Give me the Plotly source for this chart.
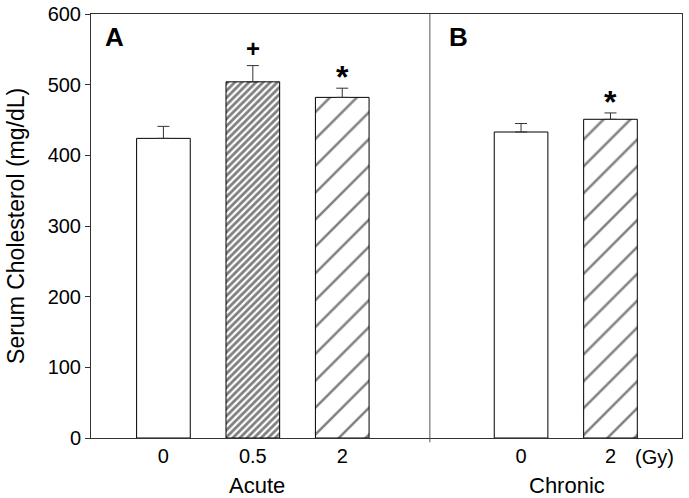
import plotly.graph_objects as go

# data
acute_doses = ["0", "0.5", "2"]
acute_mean = [424, 504, 482]
acute_err = [17, 23, 13]

chronic_doses = ["0", "2"]
chronic_mean = [433, 451]
chronic_err = [12, 9]

# hatch per dose: (shape, tile size, solidity)
hatch = {"0": ("", 8, 0.1), "0.5": ("/", 5, 0.55), "2": ("/", 19, 0.13)}

# significance marks: (group, dose index, symbol)
marks = [("acute", 1, "+"), ("acute", 2, "*"), ("chronic", 1, "*")]

FONT = "Arial, Liberation Sans, sans-serif"


def positions(group, n):
    start = 0 if group == "acute" else 4
    return [start + i for i in range(n)]


x_acute = positions("acute", len(acute_doses))
x_chronic = positions("chronic", len(chronic_doses))

xs = x_acute + x_chronic
doses = acute_doses + chronic_doses
means = acute_mean + chronic_mean
errs = acute_err + chronic_err

fig = go.Figure()

fig.add_trace(
    go.Bar(
        x=xs,
        y=means,
        width=0.6,
        marker=dict(
            color="white",
            line=dict(color="black", width=1),
            pattern=dict(
                shape=[hatch[d][0] for d in doses],
                size=[hatch[d][1] for d in doses],
                solidity=[hatch[d][2] for d in doses],
                fgcolor="black",
                bgcolor="white",
            ),
        ),
        error_y=dict(
            type="data",
            array=errs,
            arrayminus=[0] * len(errs),
            symmetric=False,
            width=6,
            thickness=1,
            color="#333333",
        ),
        showlegend=False,
        hoverinfo="skip",
    )
)

annotations = []
for group, i, sym in marks:
    if group == "acute":
        x, top = x_acute[i], acute_mean[i] + acute_err[i]
    else:
        x, top = x_chronic[i], chronic_mean[i] + chronic_err[i]
    annotations.append(
        dict(
            x=x, y=top, xref="x", yref="y", text="<b>%s</b>" % sym,
            showarrow=False, yanchor="bottom", yshift=(2 if sym == "+" else -9),
            font=dict(family=FONT, size=32 if sym == "*" else 24, color="black"),
        )
    )

annotations += [
    dict(x=-0.55, y=567, xref="x", yref="y", text="<b>A</b>", showarrow=False,
         font=dict(family=FONT, size=26, color="black")),
    dict(x=3.305, y=567, xref="x", yref="y", text="<b>B</b>", showarrow=False,
         font=dict(family=FONT, size=26, color="black")),
    dict(x=5.495, y=-0.045, xref="x", yref="paper", text="(Gy)", showarrow=False,
         yanchor="middle", font=dict(family=FONT, size=20, color="black")),
    dict(x=1.05, y=-0.112, xref="x", yref="paper", text="Acute", showarrow=False,
         yanchor="middle", font=dict(family=FONT, size=22, color="black")),
    dict(x=4.51, y=-0.112, xref="x", yref="paper", text="Chronic", showarrow=False,
         yanchor="middle", font=dict(family=FONT, size=22, color="black")),
    dict(x=-0.127, y=0.5, xref="paper", yref="paper", text="Serum Cholesterol (mg/dL)",
         textangle=-90, showarrow=False, xanchor="center", yanchor="middle",
         font=dict(family=FONT, size=23, color="black")),
]

fig.update_layout(
    width=689,
    height=498,
    margin=dict(l=91, r=7, t=14, b=60, autoexpand=False),
    plot_bgcolor="white",
    paper_bgcolor="white",
    font=dict(family=FONT, color="black"),
    annotations=annotations,
    shapes=[
        dict(type="line", xref="x", yref="paper", x0=2.98, x1=2.98, y0=-0.01, y1=1,
             line=dict(color="#555555", width=1)),
    ],
    xaxis=dict(
        range=[-0.81, 5.8],
        tickvals=xs,
        ticktext=doses,
        ticks="",
        showline=True,
        mirror=True,
        linecolor="#333333",
        linewidth=1,
        showgrid=False,
        zeroline=False,
        automargin=False,
        tickfont=dict(family=FONT, size=20),
    ),
    yaxis=dict(
        range=[0, 600],
        dtick=100,
        ticks="outside",
        ticklen=5,
        tickcolor="#333333",
        showline=True,
        mirror=True,
        linecolor="#333333",
        linewidth=1,
        showgrid=False,
        zeroline=False,
        automargin=False,
        ticklabeloverflow="allow",
        tickfont=dict(family=FONT, size=20),
    ),
)

# drop the default body margin so the figure fills the window
fig.write_html(
    "out.html",
    config={"displayModeBar": False},
    post_script="document.body.style.margin='0px';",
)
